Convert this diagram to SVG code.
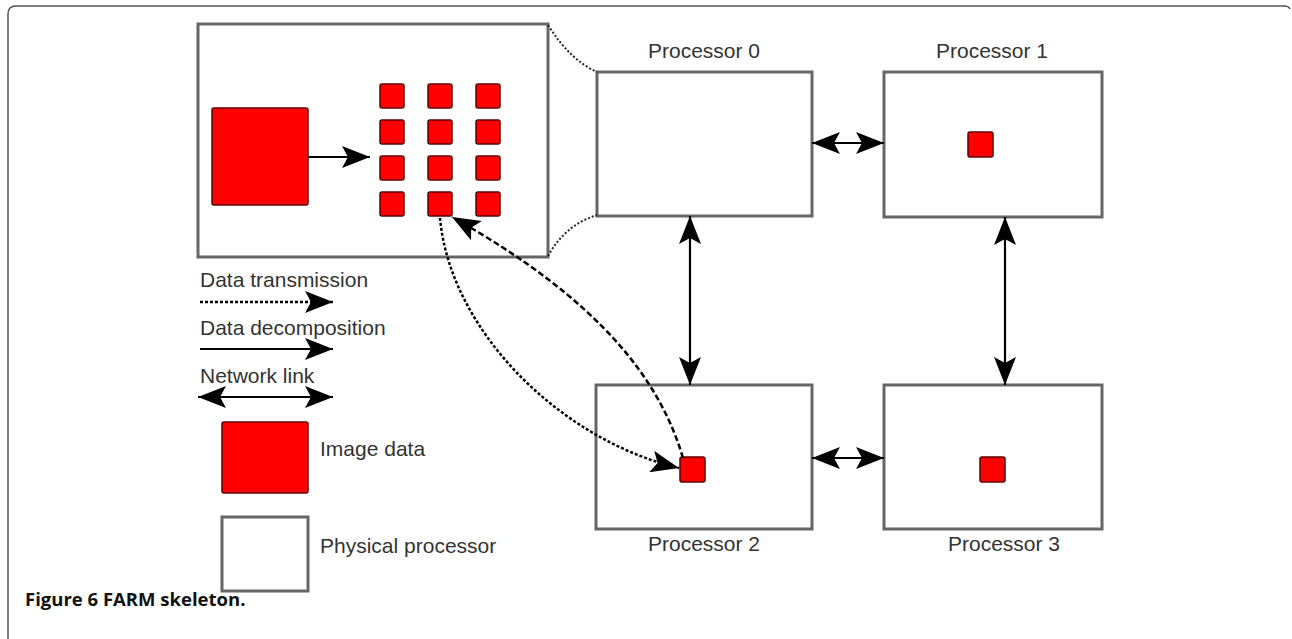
<svg xmlns="http://www.w3.org/2000/svg" width="1292" height="639" viewBox="0 0 1292 639">
<style>
.box{fill:#fff;stroke:#666;stroke-width:3}
.red{fill:#f00;stroke:#5a0000;stroke-width:1.5}
.lbl{font-family:"Liberation Sans",Arial,sans-serif;font-size:21px;fill:#333}
.ln{fill:none;stroke:#000;stroke-width:2.2}
.dot{fill:none;stroke:#000;stroke-width:2.5;stroke-dasharray:3 2}
.dash{fill:none;stroke:#000;stroke-width:2.5;stroke-dasharray:6 3}
.zoomln{fill:none;stroke:#222;stroke-width:2;stroke-dasharray:2 2}
.cap{font-family:"Open Sans","Liberation Sans",sans-serif;font-size:18.5px;font-weight:bold;fill:#111}
</style>
<defs>
<marker id="ah" viewBox="0 0 28 22" refX="28" refY="11" markerWidth="28" markerHeight="22" markerUnits="userSpaceOnUse" orient="auto-start-reverse">
<path d="M0 0 L28 11 L0 22 L6 11 Z" fill="#000"/>
</marker>
</defs>
<rect width="1292" height="639" fill="#fff"/>
<path d="M8 639 L8 14 Q8 6 16 6 L1284 6 Q1289 6 1290 9" fill="none" stroke="#555" stroke-width="1.5"/>

<g id="inset">
<rect class="box" x="198" y="24" width="350" height="233"/>
<rect class="red" x="212" y="108" width="96" height="97" rx="2"/>
<g id="pieces">
<rect class="red" x="380" y="84" width="24" height="24" rx="2"/>
<rect class="red" x="428" y="84" width="24" height="24" rx="2"/>
<rect class="red" x="476" y="84" width="24" height="24" rx="2"/>
<rect class="red" x="380" y="120" width="24" height="24" rx="2"/>
<rect class="red" x="428" y="120" width="24" height="24" rx="2"/>
<rect class="red" x="476" y="120" width="24" height="24" rx="2"/>
<rect class="red" x="380" y="156" width="24" height="24" rx="2"/>
<rect class="red" x="428" y="156" width="24" height="24" rx="2"/>
<rect class="red" x="476" y="156" width="24" height="24" rx="2"/>
<rect class="red" x="380" y="192" width="24" height="24" rx="2"/>
<rect class="red" x="428" y="192" width="24" height="24" rx="2"/>
<rect class="red" x="476" y="192" width="24" height="24" rx="2"/>
</g>
</g>

<g id="p0">
<rect class="box" x="597" y="72" width="215" height="144"/>
<text class="lbl" x="704" y="58" text-anchor="middle">Processor 0</text>
</g>
<g id="p1">
<rect class="box" x="884" y="72" width="218" height="145"/>
<rect class="red" x="968" y="132" width="25" height="25" rx="2"/>
<text class="lbl" x="992" y="58" text-anchor="middle">Processor 1</text>
</g>
<g id="p2">
<rect class="box" x="596" y="385" width="216" height="144"/>
<rect class="red" x="680" y="457" width="25" height="25" rx="2"/>
<text class="lbl" x="704" y="551" text-anchor="middle">Processor 2</text>
</g>
<g id="p3">
<rect class="box" x="884" y="385" width="218" height="144"/>
<rect class="red" x="980" y="457" width="25" height="25" rx="2"/>
<text class="lbl" x="1004" y="551" text-anchor="middle">Processor 3</text>
</g>

<g id="connectors">
<path class="zoomln" d="M548 25 Q570 60 597 72"/>
<path class="zoomln" d="M548 256 Q565 225 597 215"/>
<line class="ln" x1="308" y1="157" x2="370" y2="157" marker-end="url(#ah)"/>
<line class="ln" x1="812" y1="143" x2="884" y2="143" marker-start="url(#ah)" marker-end="url(#ah)"/>
<line class="ln" x1="812" y1="458" x2="884" y2="458" marker-start="url(#ah)" marker-end="url(#ah)"/>
<line class="ln" x1="690" y1="216" x2="690" y2="385" marker-start="url(#ah)" marker-end="url(#ah)"/>
<line class="ln" x1="1005" y1="217" x2="1005" y2="385" marker-start="url(#ah)" marker-end="url(#ah)"/>
<path class="dot" d="M440 218 C450 330 560 440 679 468" marker-end="url(#ah)"/>
<path class="dash" d="M683 458 C660 380 600 300 452 217" marker-end="url(#ah)"/>
</g>

<g id="legend">
<text class="lbl" x="200" y="287">Data transmission</text>
<line class="dot" x1="200" y1="302" x2="333" y2="302" marker-end="url(#ah)"/>
<text class="lbl" x="200" y="335">Data decomposition</text>
<line class="ln" x1="200" y1="349" x2="333" y2="349" marker-end="url(#ah)"/>
<text class="lbl" x="200" y="383">Network link</text>
<line class="ln" x1="198" y1="397" x2="333" y2="397" marker-start="url(#ah)" marker-end="url(#ah)"/>
<rect class="red" x="222" y="422" width="86" height="71" rx="2"/>
<text class="lbl" x="320" y="456">Image data</text>
<rect class="box" x="222" y="517" width="86" height="74"/>
<text class="lbl" x="320" y="553">Physical processor</text>
</g>

<text class="cap" x="25" y="606">Figure 6 FARM skeleton.</text>
</svg>
